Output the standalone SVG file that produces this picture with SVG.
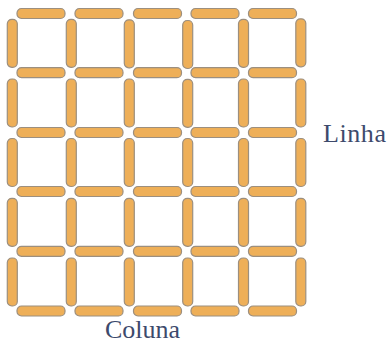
<svg xmlns="http://www.w3.org/2000/svg" width="389" height="345" viewBox="0 0 389 345">
<style>
.s{fill:#EEAF58;stroke:#9C8F7F;stroke-width:1.2}
.t{font-family:"Liberation Serif","Times New Roman",serif;font-size:26px;fill:#3D4A6C}
</style>
<defs>
<rect id="h" class="s" x="0" y="0" width="48" height="10" rx="4.5"/>
<rect id="v" class="s" x="0" y="0" width="10" height="48" rx="4.5"/>
</defs>
<rect width="389" height="345" fill="#fff"/>
<g id="horizontal">
<use href="#h" x="17" y="8.5"/><use href="#h" x="75" y="8.5"/><use href="#h" x="133.5" y="8.5"/><use href="#h" x="191" y="8.5"/><use href="#h" x="248.5" y="8.5"/>
<use href="#h" x="17" y="67.7"/><use href="#h" x="75" y="67.7"/><use href="#h" x="133.5" y="67.7"/><use href="#h" x="191" y="67.7"/><use href="#h" x="248.5" y="67.7"/>
<use href="#h" x="17" y="127.5"/><use href="#h" x="75" y="127.5"/><use href="#h" x="133.5" y="127.5"/><use href="#h" x="191" y="127.5"/><use href="#h" x="248.5" y="127.5"/>
<use href="#h" x="17" y="186.5"/><use href="#h" x="75" y="186.5"/><use href="#h" x="133.5" y="186.5"/><use href="#h" x="191" y="186.5"/><use href="#h" x="248.5" y="186.5"/>
<use href="#h" x="17" y="246.3"/><use href="#h" x="75" y="246.3"/><use href="#h" x="133.5" y="246.3"/><use href="#h" x="191" y="246.3"/><use href="#h" x="248.5" y="246.3"/>
<use href="#h" x="17" y="306"/><use href="#h" x="75" y="306"/><use href="#h" x="133.5" y="306"/><use href="#h" x="191" y="306"/><use href="#h" x="248.5" y="306"/>
</g>
<g id="vertical">
<use href="#v" x="7.3" y="19.3"/><use href="#v" x="66.3" y="19.3"/><use href="#v" x="124.3" y="19.8"/><use href="#v" x="182.7" y="20.5"/><use href="#v" x="238.5" y="19.3"/><use href="#v" x="295.8" y="18.8"/>
<use href="#v" x="7.3" y="79"/><use href="#v" x="66.3" y="79"/><use href="#v" x="124.3" y="79"/><use href="#v" x="182.7" y="79.3"/><use href="#v" x="238.5" y="79"/><use href="#v" x="295.8" y="79"/>
<use href="#v" x="7.3" y="138.5"/><use href="#v" x="66.3" y="138.5"/><use href="#v" x="124.3" y="138.5"/><use href="#v" x="182.7" y="138.5"/><use href="#v" x="238.5" y="138.5"/><use href="#v" x="295.8" y="138.5"/>
<use href="#v" x="7.3" y="198.3"/><use href="#v" x="66.3" y="198.3"/><use href="#v" x="124.3" y="198.3"/><use href="#v" x="182.7" y="198.3"/><use href="#v" x="238.5" y="198.3"/><use href="#v" x="295.8" y="198.3"/>
<use href="#v" x="7.3" y="258"/><use href="#v" x="66.3" y="258"/><use href="#v" x="124.3" y="258"/><use href="#v" x="182.7" y="258"/><use href="#v" x="238.5" y="258"/><use href="#v" x="295.8" y="258"/>
</g>
<g id="labels">
<text class="t" x="323" y="142" textLength="63" lengthAdjust="spacing">Linha</text>
<text class="t" x="105" y="338" textLength="75" lengthAdjust="spacing">Coluna</text>
</g>
</svg>
